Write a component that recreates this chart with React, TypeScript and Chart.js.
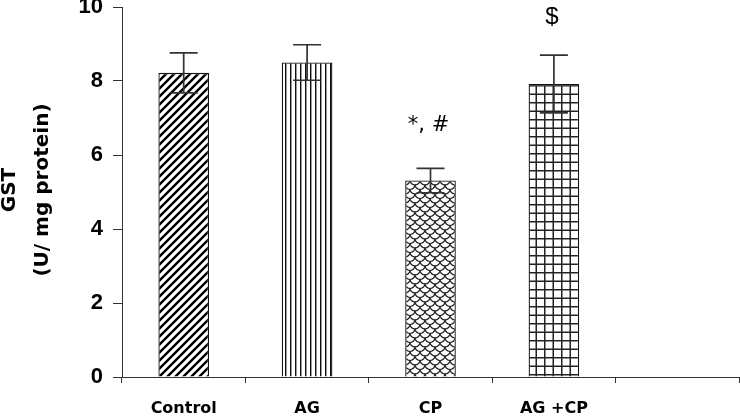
import React, { useEffect, useRef } from 'react';
import { Chart, registerables } from 'chart.js';

Chart.register(...registerables);

const categories = ['Control', 'AG', 'CP', 'AG +CP', ''];
const means: (number | null)[] = [8.22, 8.5, 5.31, 7.92, null];
const sems: (number | null)[] = [0.54, 0.48, 0.33, 0.78, null];
const annotations = ['', '', '*, #', '$', ''];
const annotationY: (number | null)[] = [null, null, 6.8, 9.72, null];
const yMin = 0;
const yMax = 10;
const yStep = 2;
const yTitle = ['GST', '(U/ mg protein)'];

function tile(ctx: CanvasRenderingContext2D, w: number, h: number, draw: (g: CanvasRenderingContext2D) => void) {
  const c = document.createElement('canvas');
  c.width = w;
  c.height = h;
  const g = c.getContext('2d')!;
  g.fillStyle = '#fff';
  g.fillRect(0, 0, w, h);
  draw(g);
  return ctx.createPattern(c, 'repeat')!;
}

function makePatterns(ctx: CanvasRenderingContext2D) {
  const diag = tile(ctx, 8, 8, (g) => {
    g.strokeStyle = '#000';
    g.lineWidth = 2.4;
    g.beginPath();
    g.moveTo(-1, 9); g.lineTo(9, -1);
    g.moveTo(-5, 5); g.lineTo(5, -5);
    g.moveTo(3, 13); g.lineTo(13, 3);
    g.stroke();
  });
  const vert = tile(ctx, 5, 4, (g) => {
    g.fillStyle = '#111';
    g.fillRect(0, 0, 1, 4);
    g.fillStyle = '#999';
    g.fillRect(1, 0, 1, 4);
  });
  const scale = tile(ctx, 10, 9, (g) => {
    g.strokeStyle = '#222';
    g.lineWidth = 1.2;
    const arcs: [number, number][] = [[5, 0], [0, 4.5], [10, 4.5], [0, -4.5], [10, -4.5]];
    arcs.forEach(([cx, cy]) => {
      g.beginPath();
      g.arc(cx, cy, 5, 0, Math.PI);
      g.stroke();
    });
  });
  const grid = tile(ctx, 17, 17, (g) => {
    g.fillStyle = '#222';
    g.fillRect(0, 0, 1.5, 17);
    g.fillRect(8.5, 0, 1.5, 17);
    g.fillRect(0, 0, 17, 1.5);
    g.fillRect(0, 8.5, 17, 1.5);
  });
  return [diag, vert, scale, grid, '#fff'];
}

const errorBarPlugin = {
  id: 'errorBars',
  afterDatasetsDraw(chart: any) {
    const ctx = chart.ctx as CanvasRenderingContext2D;
    const meta = chart.getDatasetMeta(0);
    const y = chart.scales.y;
    ctx.save();
    ctx.strokeStyle = '#333';
    ctx.lineWidth = 1.7;
    meta.data.forEach((el: any, i: number) => {
      const m = means[i];
      const s = sems[i];
      if (m == null || s == null) return;
      const x = el.x;
      const t = y.getPixelForValue(m + s);
      const b = y.getPixelForValue(m - s);
      ctx.beginPath();
      ctx.moveTo(x, t); ctx.lineTo(x, b);
      ctx.moveTo(x - 14, t); ctx.lineTo(x + 14, t);
      ctx.moveTo(x - 14, b); ctx.lineTo(x + 14, b);
      ctx.stroke();
    });
    ctx.restore();
  },
};

const textPlugin = {
  id: 'texts',
  afterDraw(chart: any) {
    const ctx = chart.ctx as CanvasRenderingContext2D;
    const meta = chart.getDatasetMeta(0);
    const y = chart.scales.y;
    const area = chart.chartArea;
    ctx.save();
    ctx.fillStyle = '#000';
    ctx.textAlign = 'center';
    ctx.textBaseline = 'middle';
    meta.data.forEach((el: any, i: number) => {
      const v = annotationY[i];
      if (v == null || !annotations[i]) return;
      ctx.font = annotations[i] === '$' ? '24px "Liberation Sans"' : '21px "DejaVu Sans"';
      ctx.fillText(annotations[i], el.x - 2, y.getPixelForValue(v));
    });
    const cy = (area.top + area.bottom) / 2 - 2;
    ctx.font = 'bold 20px "DejaVu Sans"';
    const xs = [10, 43];
    yTitle.forEach((t, i) => {
      ctx.save();
      ctx.translate(xs[i], cy);
      ctx.rotate(-Math.PI / 2);
      ctx.fillText(t, 0, 0);
      ctx.restore();
    });
    ctx.restore();
  },
};

export default function App() {
  const ref = useRef<HTMLCanvasElement | null>(null);
  useEffect(() => {
    const canvas = ref.current!;
    const ctx = canvas.getContext('2d')!;
    const patterns = makePatterns(ctx);
    const chart = new Chart(canvas, {
      type: 'bar',
      data: {
        labels: categories,
        datasets: [
          {
            data: means as any,
            backgroundColor: patterns as any,
            borderColor: '#111',
            borderWidth: 1.3,
            barPercentage: 0.41,
            categoryPercentage: 1,
          },
        ],
      },
      options: {
        animation: false,
        responsive: false,
        devicePixelRatio: 1,
        layout: { padding: { top: 7, right: 1, left: 0, bottom: 0 } },
        plugins: { legend: { display: false }, tooltip: { enabled: false } },
        scales: {
          x: {
            type: 'category',
            offset: true,
            grid: { offset: true, drawOnChartArea: false, tickLength: 6, color: '#333', lineWidth: 1 },
            border: { color: '#333', width: 1 },
            ticks: {
              font: { family: 'DejaVu Sans', weight: 'bold', size: 16 },
              color: '#000',
              padding: 16,
              maxRotation: 0,
              autoSkip: false,
            },
            afterFit(scale: any) {
              scale.height = 40;
              scale.paddingLeft = 0;
              scale.paddingRight = 0;
            },
          },
          y: {
            min: yMin,
            max: yMax,
            grid: { drawOnChartArea: false, tickLength: 9, color: '#333', lineWidth: 1 },
            border: { color: '#333', width: 1 },
            ticks: {
              stepSize: yStep,
              font: { family: 'Liberation Sans', weight: 'bold', size: 22 },
              color: '#000',
              padding: 10,
            },
            afterFit(scale: any) {
              scale.width = 122;
              scale.paddingTop = 0;
              scale.paddingBottom = 0;
            },
          },
        },
      },
      plugins: [errorBarPlugin, textPlugin],
    });
    return () => chart.destroy();
  }, []);
  return (
    <div style={{ position: 'absolute', left: 0, top: 0, width: 740, height: 417, background: '#fff' }}>
      <canvas ref={ref} width={740} height={417} style={{ display: 'block' }} />
    </div>
  );
}
